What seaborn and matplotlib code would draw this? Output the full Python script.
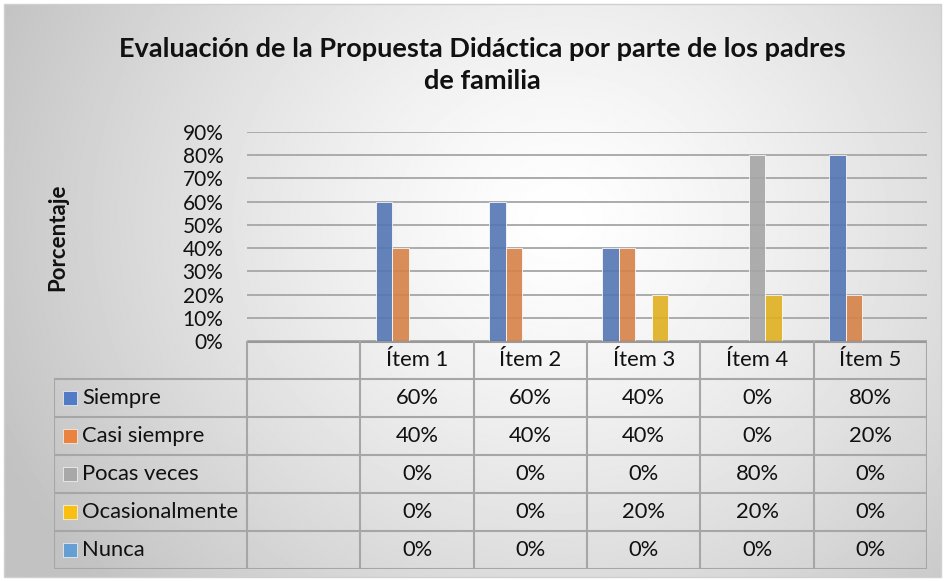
import matplotlib
matplotlib.use("Agg")
import matplotlib.pyplot as plt
import seaborn as sns
import pandas as pd
import numpy as np

# Datos del gráfico
items = ["Ítem 1", "Ítem 2", "Ítem 3", "Ítem 4", "Ítem 5"]
series = ["Siempre", "Casi siempre", "Pocas veces", "Ocasionalmente", "Nunca"]
siempre = [0.60, 0.60, 0.40, 0.00, 0.80]
casi_siempre = [0.40, 0.40, 0.40, 0.00, 0.20]
pocas_veces = [0.00, 0.00, 0.00, 0.80, 0.00]
ocasionalmente = [0.00, 0.00, 0.20, 0.20, 0.00]
nunca = [0.00, 0.00, 0.00, 0.00, 0.00]
colores = ["#4472C4", "#ED7D31", "#A5A5A5", "#FFC000", "#5B9BD5"]
titulo = "Evaluación de la Propuesta Didáctica por parte de los padres\nde familia"

valores = [siempre, casi_siempre, pocas_veces, ocasionalmente, nunca]
df = pd.DataFrame(
    [(it, s, v[i]) for s, v in zip(series, valores) for i, it in enumerate(items)],
    columns=["item", "serie", "valor"],
)
orden = [" "] + items  # primera columna vacía como en el original

sns.set_style("white")
plt.rcParams["font.family"] = ["Lato", "DejaVu Sans"]
texto = "#111111"
linea = "#A6A6A6"

W, H = 946, 581
fig = plt.figure(figsize=(W / 100, H / 100), dpi=100)

# Fondo con degradado radial
bg = fig.add_axes([0, 0, 1, 1])
bg.set_xlim(0, W)
bg.set_ylim(H, 0)
bg.axis("off")
yy, xx = np.mgrid[0:H, 0:W]
r = np.hypot(xx - 560, (yy - 220) / 0.9)
t = np.clip(r / 620, 0, 1) ** 1.3
img = 1 - t * 0.24
bg.imshow(img, cmap="gray", vmin=0, vmax=1, extent=[4, W - 5, H - 4, 4], aspect="auto")
bg.add_patch(plt.Rectangle((4, 4), W - 9, H - 8, fill=False, ec="#D0D0D0", lw=1))

# Área del gráfico de barras
x0, x1, y_base, y_top = 247, 927, 341, 132
ax = fig.add_axes([x0 / W, 1 - y_base / H, (x1 - x0) / W, (y_base - y_top) / H])
sns.barplot(data=df, x="item", y="valor", hue="serie", order=orden,
            hue_order=series, palette=colores, width=0.73, ax=ax,
            edgecolor="#FFFFFF", linewidth=0.6, alpha=0.9, legend=False)
ax.set_facecolor("none")
ax.set_ylim(0, 0.9)
ax.set_xlim(-0.5, len(orden) - 0.5)
ticks = np.round(np.arange(0, 0.91, 0.1), 1)
ax.set_yticks(ticks)
ax.set_yticklabels([f"{v:.0%}" for v in ticks], fontsize=15, color=texto)
ax.tick_params(axis="y", length=0, pad=17)
ax.set_xticks([])
ax.set_xlabel("")
ax.set_ylabel("")
ax.yaxis.grid(True, color="#ABABAB", lw=1.4)
ax.set_axisbelow(True)
for s in ax.spines.values():
    s.set_visible(False)

fig.text(58 / W, 1 - 237 / H, "Porcentaje", rotation=90, ha="center", va="center",
         fontsize=16, fontweight="bold", color=texto)
fig.text(482 / W, 1 - 65 / H, titulo, ha="center", va="center", fontsize=19.5,
         fontweight="bold", color=texto, linespacing=1.42)

# Tabla de datos debajo del gráfico
t_left, t_bottom = 54, 569
col_w = (x1 - x0) / len(orden)
leg_w = (x0 - t_left) / col_w
tab = fig.add_axes([t_left / W, 1 - t_bottom / H, (x1 - t_left) / W, (t_bottom - y_base) / H])
tab.set_xlim(-0.5 - leg_w, len(orden) - 0.5)
tab.set_ylim(len(series) + 1, 0)
tab.axis("off")
nrows = len(series) + 1
xl = -0.5 - leg_w
for k in range(1, nrows + 1):
    tab.plot([xl, len(orden) - 0.5], [k, k], color=linea, lw=1.5, solid_capstyle="butt")
tab.plot([-0.5, len(orden) - 0.5], [0, 0], color="#999999", lw=2.2, solid_capstyle="butt")
for k in range(len(orden) + 1):
    tab.plot([k - 0.5, k - 0.5], [0, nrows], color=linea, lw=1.5)
tab.plot([xl, xl], [1, nrows], color=linea, lw=1.5)

for i, it in enumerate(items):
    tab.text(i + 1, 0.5, it, ha="center", va="center", fontsize=15.8, color=texto)
for j, (s, v, c) in enumerate(zip(series, valores, colores)):
    yrow = j + 1.5
    tab.plot(xl + 0.137, yrow, marker="s", ms=9.5, color=c, mec="#FFFFFF", mew=0.5, alpha=0.9)
    tab.text(xl + 0.25, yrow, s, ha="left", va="center", fontsize=15.8, color=texto)
    for i in range(len(items)):
        tab.text(i + 1, yrow, f"{v[i]:.0%}", ha="center", va="center", fontsize=15.8, color=texto)

fig.savefig("out.png", dpi=100)
